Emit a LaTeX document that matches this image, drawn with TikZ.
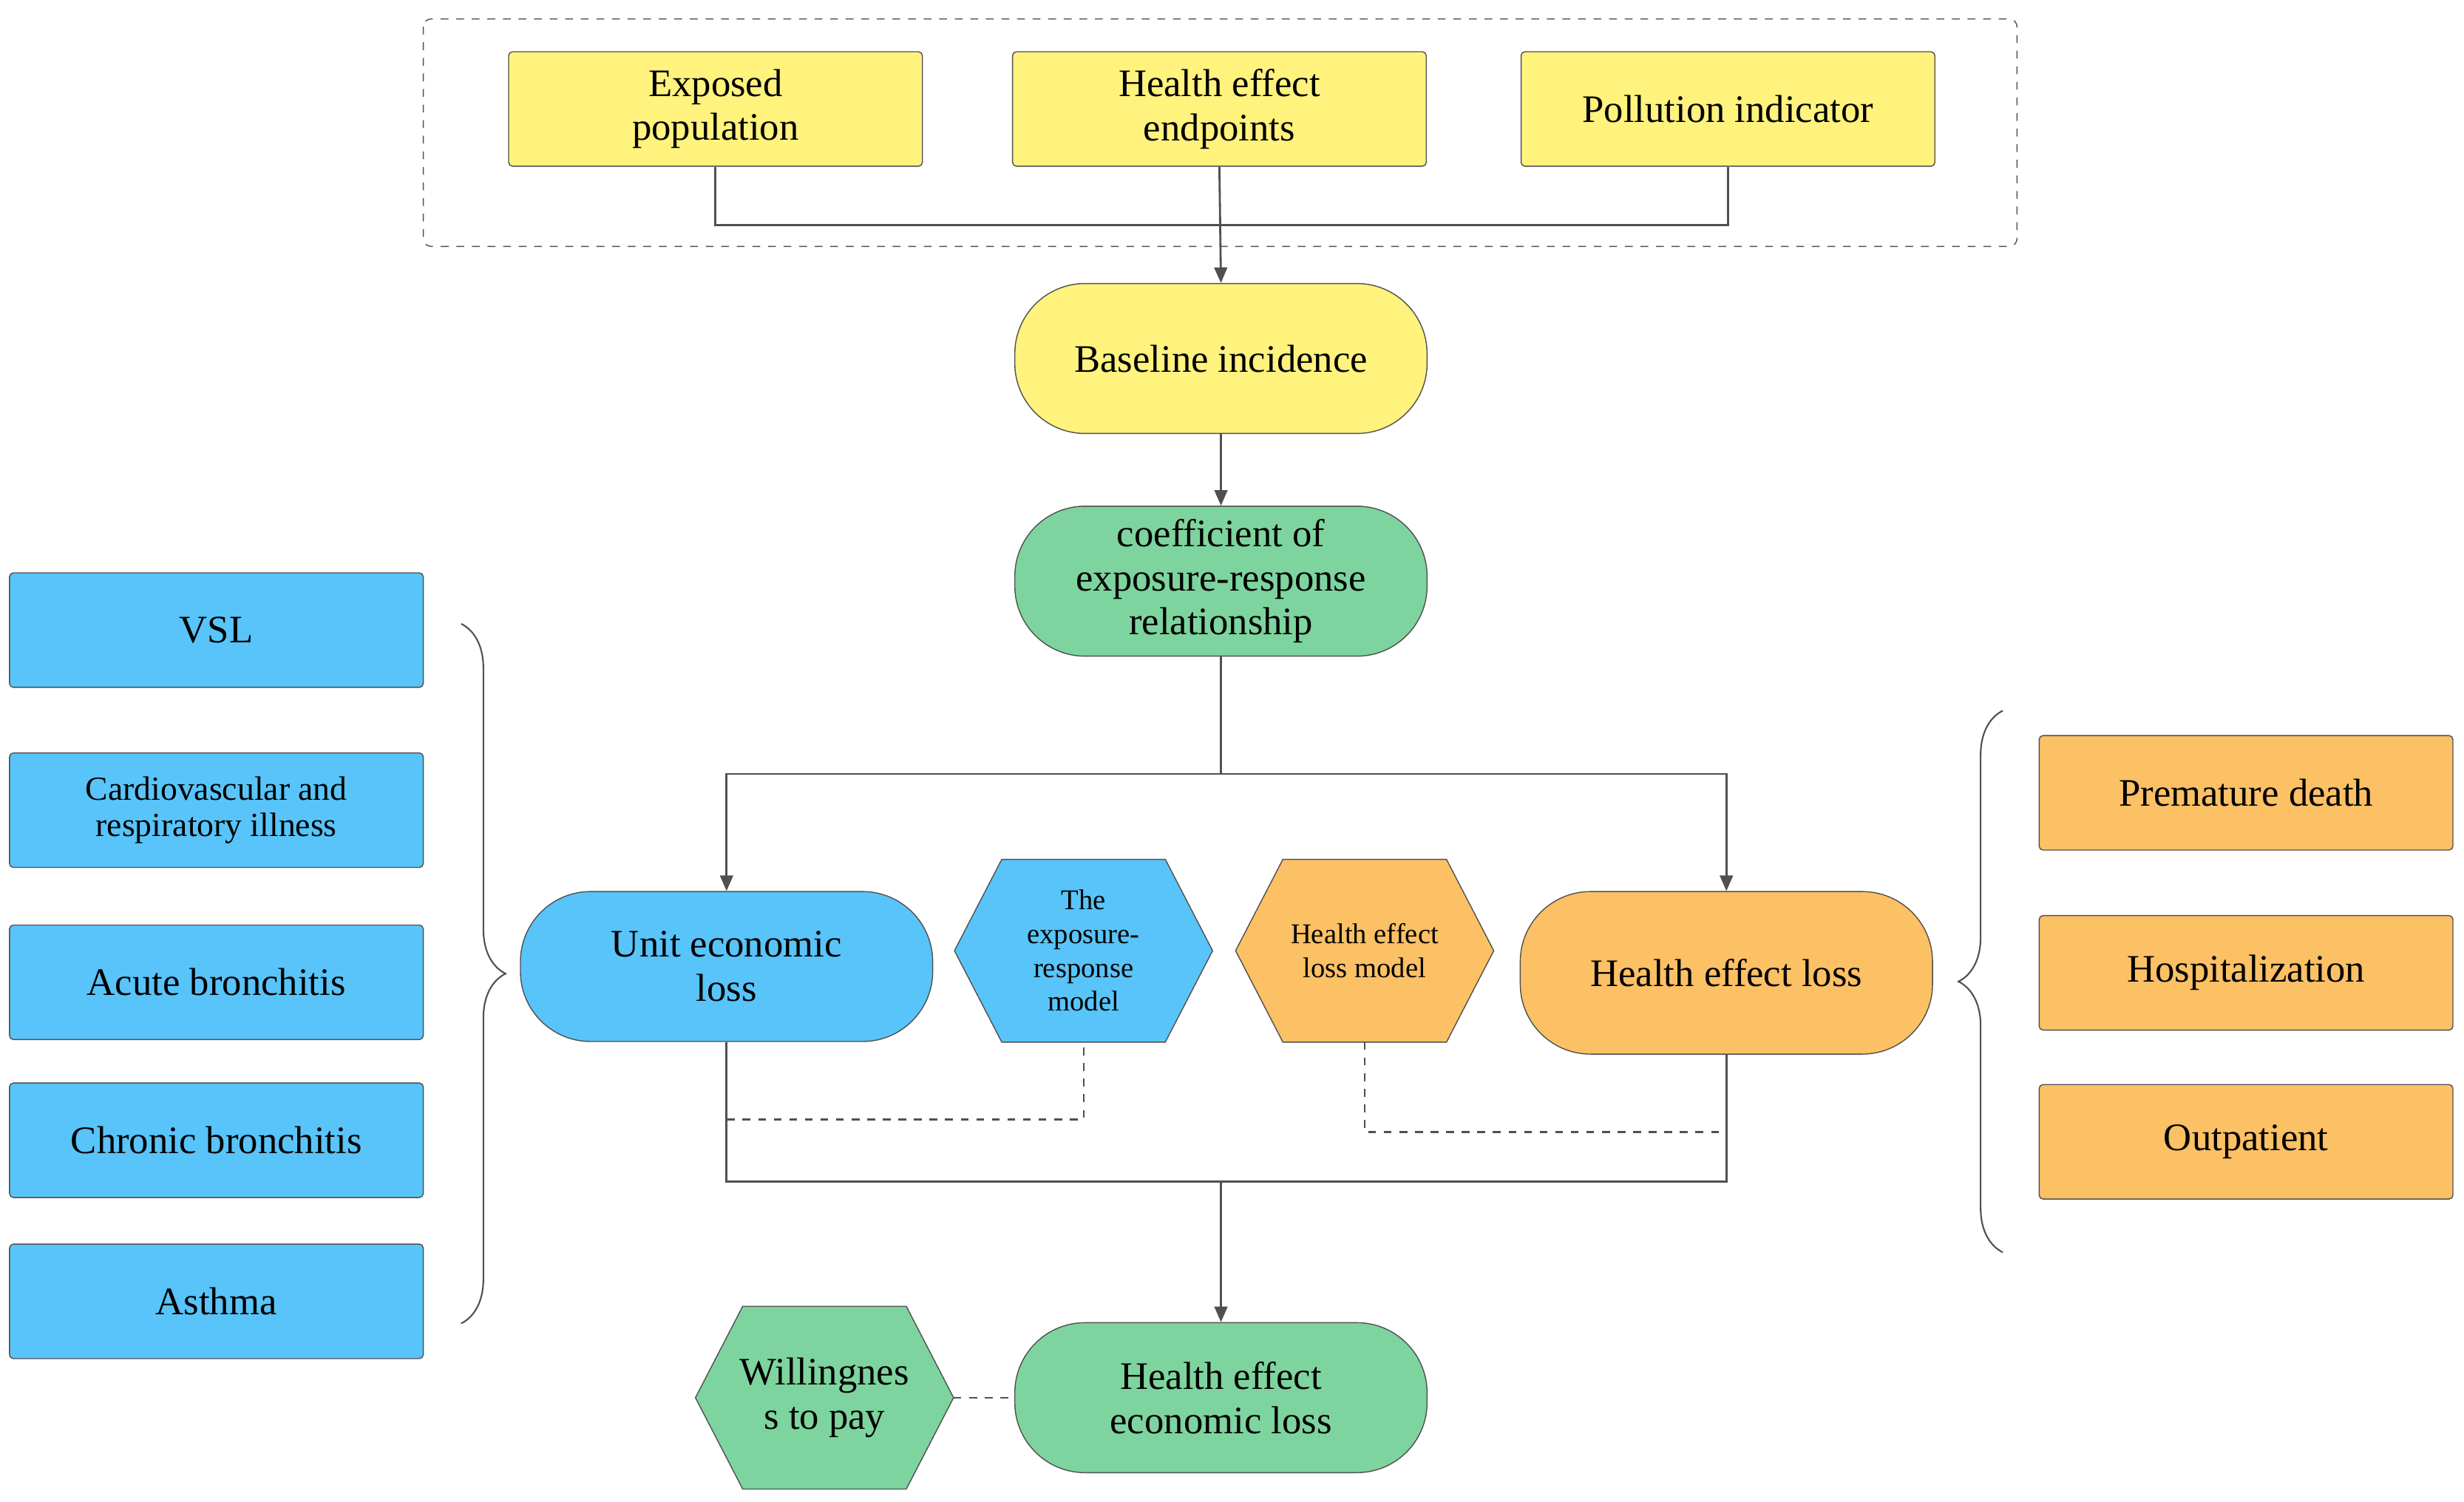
\documentclass[tikz,border=0pt]{standalone}
\usepackage{fontspec}
\setmainfont{Liberation Serif}
\usetikzlibrary{shapes.geometric}
\usetikzlibrary{positioning}
\usetikzlibrary{calc, arrows.meta}
\usetikzlibrary{backgrounds, decorations.pathreplacing}

\begin{document}
\begin{tikzpicture}[x=0.02137cm, y=-0.02137cm]
\definecolor{boxyellow}{HTML}{FFF27D}
\definecolor{boxblue}{HTML}{58C4F9}
\definecolor{boxorange}{HTML}{FCC065}
\definecolor{boxgreen}{HTML}{7ED49E}
\definecolor{edgegray}{HTML}{505050}
\tikzstyle{flow}=[edgegray, line width=0.8pt, >={Triangle[length=6pt,width=5pt]}]
\tikzstyle{side}=[edgegray, dashed, line width=0.6pt]
\tikzstyle{box}=[rectangle, draw=edgegray, rounded corners=1.5pt, align=center,
minimum width=5.6cm, minimum height=1.55cm, font=\fontsize{15}{17}\selectfont]
\tikzstyle{pill}=[rectangle, draw=edgegray, rounded corners=0.95cm, align=center,
minimum width=5.58cm, minimum height=2.03cm, font=\fontsize{15}{17}\selectfont]
\tikzstyle{hexa}=[rectangle, draw=none, align=center, inner sep=0pt,
minimum width=3.48cm, minimum height=2.46cm, font=\fontsize{11}{13}\selectfont]
\tikzstyle{brace}=[edgegray, line width=0.6pt, decorate, decoration={brace, amplitude=0.6cm}]

\useasboundingbox (0,0) rectangle (1560,951);

% top group
\draw[edgegray, dashed, rounded corners=3pt] (268,12) rectangle (1277,156);
\node[box, fill=boxyellow] (ep) at (453,69) {Exposed\\population};
\node[box, fill=boxyellow] (hee) at (772,69) {Health effect\\endpoints};
\node[box, fill=boxyellow] (pi) at (1094,69) {Pollution indicator};

\node[pill, fill=boxyellow] (bi) at (773,227) {Baseline incidence};
\node[pill, fill=boxgreen] (cer) at (773,368) {coefficient of\\exposure-response\\relationship};

% middle row
\node[pill, fill=boxblue] (uel) at (460,612) {Unit economic\\loss};
\node[hexa] (erm) at (686,602) {The\\exposure-\\response\\model};
\node[hexa] (hlm) at (864,602) {Health effect\\loss model};
\node[pill, fill=boxorange, minimum height=2.2cm] (hel) at (1093,616) {Health effect loss};

% bottom row
\node[pill, fill=boxgreen] (heel) at (773,885) {Health effect\\economic loss};
\node[hexa, font=\fontsize{15}{17}\selectfont] (wtp) at (522,885) {Willingnes\\s to pay};

% left column
\node[box, fill=boxblue] (vsl) at (137,399) {VSL};
\node[box, fill=boxblue, font=\fontsize{13}{14}\selectfont] (cri) at (137,513) {Cardiovascular and\\respiratory illness};
\node[box, fill=boxblue] (ab) at (137,622) {Acute bronchitis};
\node[box, fill=boxblue] (cb) at (137,722) {Chronic bronchitis};
\node[box, fill=boxblue] (as) at (137,824) {Asthma};

% right column
\node[box, fill=boxorange] (pd) at (1422,502) {Premature death};
\node[box, fill=boxorange] (hos) at (1422,616) {Hospitalization};
\node[box, fill=boxorange] (op) at (1422,723) {Outpatient};

\begin{pgfonlayer}{background}
\foreach \h/\c in {erm/boxblue, hlm/boxorange, wtp/boxgreen}
  \draw[draw=edgegray, fill=\c] (\h.west) -- ([xshift=0.64cm]\h.north west) -- ([xshift=-0.64cm]\h.north east)
    -- (\h.east) -- ([xshift=-0.64cm]\h.south east) -- ([xshift=0.64cm]\h.south west) -- cycle;
\end{pgfonlayer}

% connectors
\draw[flow] (ep.south) -- ++(0,37) -| (pi.south);
\draw[flow, ->] (hee.south) -- (bi.north);
\draw[flow, ->] (bi.south) -- (cer.north);
\coordinate (split) at (773,490);
\draw[flow] (cer.south) -- (split);
\draw[flow, ->] (split) -| (uel.north);
\draw[flow, ->] (split) -| (hel.north);
\coordinate (merge) at (773,748);
\draw[flow] (uel.south) |- (merge) -| (hel.south);
\draw[flow, ->] (merge) -- (heel.north);
\draw[side] (uel.south) |- ($(erm.south)+(0,49)$) -- (erm.south);
\draw[side] (hlm.south) |- ($(hel.south)+(0,49)$) -- (hel.south);
\draw[side] (wtp.east) -- (heel.west);

% braces
\draw[brace] (292,395) -- (292,838);
\draw[brace] (1268,793) -- (1268,450);
\end{tikzpicture}
\end{document}
